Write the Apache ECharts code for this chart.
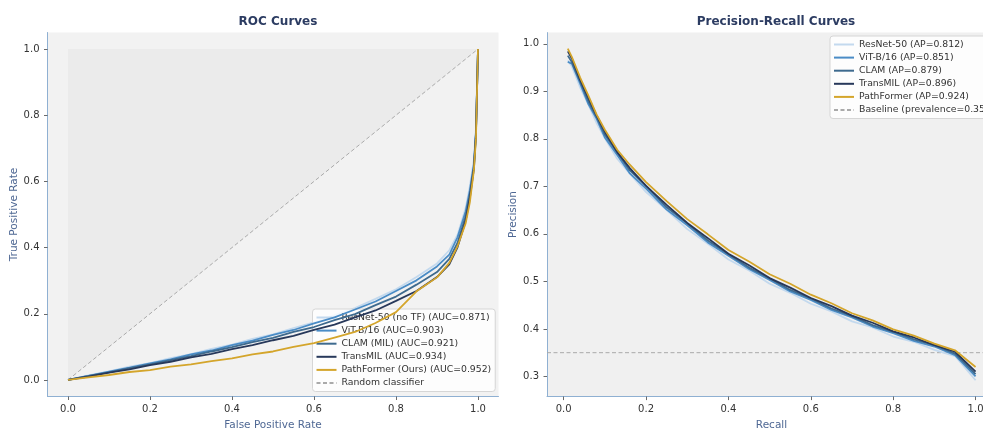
<!DOCTYPE html>
<html>
<head>
<meta charset="utf-8">
<script src="https://cdn.jsdelivr.net/npm/echarts@6/dist/echarts.min.js"></script>
<style>html,body{margin:0;padding:0;background:#fff;}#c{width:983px;height:428px;}</style>
</head>
<body>
<div id="c"></div>
<script>
// ---- ROC data ----
const rocFpr = [0, 0.05, 0.1, 0.15, 0.2, 0.25, 0.3, 0.35, 0.4, 0.45, 0.5, 0.55, 0.6, 0.65, 0.7, 0.75, 0.8, 0.85, 0.9, 0.93, 0.95, 0.97, 0.98, 0.99, 0.995, 1];
const rocResNet = [0, 0.014, 0.026, 0.040, 0.051, 0.066, 0.078, 0.094, 0.107, 0.124, 0.138, 0.157, 0.174, 0.196, 0.217, 0.245, 0.274, 0.311, 0.352, 0.392, 0.438, 0.52, 0.585, 0.665, 0.76, 1];
const rocViT = [0, 0.012, 0.025, 0.037, 0.050, 0.062, 0.077, 0.089, 0.105, 0.119, 0.136, 0.151, 0.171, 0.189, 0.213, 0.237, 0.269, 0.301, 0.343, 0.379, 0.431, 0.51, 0.572, 0.652, 0.75, 1];
const rocCLAM = [0, 0.012, 0.023, 0.036, 0.047, 0.060, 0.072, 0.086, 0.099, 0.114, 0.127, 0.145, 0.160, 0.181, 0.199, 0.226, 0.252, 0.288, 0.326, 0.366, 0.414, 0.495, 0.561, 0.645, 0.745, 1];
const rocTransMIL = [0, 0.010, 0.022, 0.032, 0.045, 0.055, 0.068, 0.079, 0.093, 0.105, 0.120, 0.133, 0.151, 0.167, 0.189, 0.210, 0.239, 0.269, 0.311, 0.349, 0.401, 0.481, 0.549, 0.638, 0.74, 1];
const rocPathFormer = [0, 0.008, 0.015, 0.024, 0.030, 0.040, 0.047, 0.057, 0.065, 0.077, 0.086, 0.100, 0.111, 0.128, 0.145, 0.172, 0.205, 0.268, 0.310, 0.354, 0.404, 0.474, 0.536, 0.634, 0.73, 1];
const rocNames = ['ResNet-50 (no TF) (AUC=0.871)', 'ViT-B/16 (AUC=0.903)', 'CLAM (MIL) (AUC=0.921)', 'TransMIL (AUC=0.934)', 'PathFormer (Ours) (AUC=0.952)'];
const randomName = 'Random classifier';

// ---- PR data ----
const prRecall = [0.01, 0.02, 0.04, 0.06, 0.08, 0.1, 0.13, 0.16, 0.2, 0.25, 0.3, 0.35, 0.4, 0.45, 0.5, 0.55, 0.6, 0.65, 0.7, 0.75, 0.8, 0.85, 0.9, 0.95, 1.0];
const prResNet = [0.965, 0.952, 0.908, 0.872, 0.833, 0.801, 0.758, 0.727, 0.688, 0.650, 0.610, 0.579, 0.546, 0.523, 0.495, 0.476, 0.453, 0.437, 0.416, 0.403, 0.384, 0.373, 0.356, 0.343, 0.292];
const prViT = [0.962, 0.958, 0.916, 0.873, 0.842, 0.803, 0.766, 0.728, 0.695, 0.651, 0.618, 0.582, 0.554, 0.526, 0.503, 0.479, 0.461, 0.440, 0.424, 0.405, 0.391, 0.375, 0.363, 0.345, 0.300];
const prCLAM = [0.975, 0.961, 0.921, 0.879, 0.846, 0.809, 0.771, 0.734, 0.701, 0.656, 0.622, 0.586, 0.557, 0.529, 0.506, 0.482, 0.464, 0.443, 0.427, 0.408, 0.394, 0.378, 0.366, 0.348, 0.305];
const prTransMIL = [0.984, 0.969, 0.924, 0.886, 0.849, 0.815, 0.772, 0.739, 0.701, 0.661, 0.623, 0.591, 0.558, 0.534, 0.507, 0.487, 0.465, 0.448, 0.428, 0.413, 0.395, 0.382, 0.366, 0.352, 0.310];
const prPathFormer = [0.990, 0.972, 0.929, 0.891, 0.851, 0.819, 0.777, 0.746, 0.709, 0.669, 0.631, 0.599, 0.566, 0.542, 0.515, 0.495, 0.472, 0.454, 0.433, 0.418, 0.399, 0.386, 0.369, 0.355, 0.320];
const prNames = ['ResNet-50 (AP=0.812)', 'ViT-B/16 (AP=0.851)', 'CLAM (AP=0.879)', 'TransMIL (AP=0.896)', 'PathFormer (AP=0.924)'];
const baselineName = 'Baseline (prevalence=0.35)';
const prevalence = 0.35;

// ---- tick labels ----
const rocTicks = [0, 0.2, 0.4, 0.6, 0.8, 1.0];
const prXTicks = [0, 0.2, 0.4, 0.6, 0.8, 1.0];
const prYTicks = [0.3, 0.4, 0.5, 0.6, 0.7, 0.8, 0.9, 1.0];

const colors = ['#c3d9ee', '#4a8cc6', '#3e6a8e', '#27385a', '#d4a52b'];
const FONT = 'DejaVu Sans';

const zip = (xs, ys) => xs.map((x, i) => [x, ys[i]]);
const rocSets = [rocResNet, rocViT, rocCLAM, rocTransMIL, rocPathFormer];
const prSets = [prResNet, prViT, prCLAM, prTransMIL, prPathFormer];

function axisCommon(ticks, nameText, nameGap) {
  return {
    type: 'value',
    name: nameText,
    nameLocation: 'middle',
    nameGap: nameGap,
    nameTextStyle: {color: '#4f6894', fontSize: 10.5, fontFamily: FONT},
    axisLine: {show: true, onZero: false, lineStyle: {color: '#8fb0d2', width: 1}},
    axisTick: {show: true, customValues: ticks, length: 3.5, lineStyle: {color: '#444', width: 0.8}},
    axisLabel: {customValues: ticks, formatter: v => v.toFixed(1), color: '#333', fontSize: 10, fontFamily: FONT, margin: 8},
    splitLine: {show: false}
  };
}

const series = [];
// shaded triangle above diagonal
series.push({
  type: 'custom', xAxisIndex: 0, yAxisIndex: 0, silent: true, z: 1,
  data: [[0, 0]],
  renderItem: function (params, api) {
    const p0 = api.coord([0, 0]), p1 = api.coord([0, 1]), p2 = api.coord([1, 1]);
    return {type: 'polygon', shape: {points: [p0, p1, p2]}, style: {fill: 'rgba(0,0,0,0.028)'}};
  }
});
series.push({
  name: randomName, type: 'line', xAxisIndex: 0, yAxisIndex: 0, symbol: 'none', z: 2,
  data: [[0, 0], [1, 1]],
  lineStyle: {color: '#aaaaaa', width: 1, type: [4, 2.5]}, itemStyle: {color: '#aaaaaa'}
});
rocSets.forEach((s, i) => {
  series.push({
    name: rocNames[i], type: 'line', xAxisIndex: 0, yAxisIndex: 0, symbol: 'none', z: 3 + i,
    data: zip(rocFpr, s), lineStyle: {color: colors[i], width: 1.8}, itemStyle: {color: colors[i]}
  });
});
prSets.forEach((s, i) => {
  series.push({
    name: prNames[i], type: 'line', xAxisIndex: 1, yAxisIndex: 1, symbol: 'none', z: 3 + i,
    data: zip(prRecall, s), lineStyle: {color: colors[i], width: 1.8}, itemStyle: {color: colors[i]}
  });
});
series.push({
  name: baselineName, type: 'line', xAxisIndex: 1, yAxisIndex: 1, symbol: 'none', z: 2,
  data: [[-0.0405, prevalence], [1.0496, prevalence]],
  lineStyle: {color: '#aaaaaa', width: 1, type: [4, 2.5]}, itemStyle: {color: '#aaaaaa'}
});

const legendCommon = {
  orient: 'vertical', itemWidth: 20, itemHeight: 10, itemGap: 4.1,
  padding: [4, 4, 4, 3],
  backgroundColor: 'rgba(255,255,255,0.82)', borderColor: '#d6d6d6', borderWidth: 1, borderRadius: 3,
  itemStyle: {opacity: 0},
  textStyle: {fontSize: 9.3, color: '#333', fontFamily: FONT}
};

const option = {
  animation: false,
  backgroundColor: '#ffffff',
  title: [
    {text: 'ROC Curves', left: 273, top: 11, textAlign: 'center', textStyle: {fontSize: 12, fontWeight: 'bold', color: '#2c3c62', fontFamily: FONT}},
    {text: 'Precision-Recall Curves', left: 771, top: 11, textAlign: 'center', textStyle: {fontSize: 12, fontWeight: 'bold', color: '#2c3c62', fontFamily: FONT}}
  ],
  legend: [
    Object.assign({}, legendCommon, {data: rocNames.concat([randomName]), left: 312.5, top: 309}),
    Object.assign({}, legendCommon, {data: prNames.concat([baselineName]), left: 830, top: 36})
  ],
  grid: [
    {left: 47.5, top: 32.5, width: 451, height: 364, show: true, backgroundColor: '#f2f2f2', borderWidth: 0, containLabel: false, outerBoundsMode: 'none'},
    {left: 547, top: 32.6, width: 449, height: 364, show: true, backgroundColor: '#f0f0f0', borderWidth: 0, containLabel: false, outerBoundsMode: 'none'}
  ],
  xAxis: [
    Object.assign(axisCommon(rocTicks, 'False Positive Rate', 21), {gridIndex: 0, min: -0.05, max: 1.05}),
    Object.assign(axisCommon(prXTicks, 'Recall', 21), {gridIndex: 1, min: -0.0405, max: 1.0496})
  ],
  yAxis: [
    Object.assign(axisCommon(rocTicks, 'True Positive Rate', 26), {gridIndex: 0, min: -0.05, max: 1.05}),
    Object.assign(axisCommon(prYTicks, 'Precision', 26), {gridIndex: 1, min: 0.2576, max: 1.0235})
  ],
  series: series
};

const chart = echarts.init(document.getElementById('c'), null, {renderer: 'canvas'});
chart.setOption(option);
</script>
</body>
</html>
